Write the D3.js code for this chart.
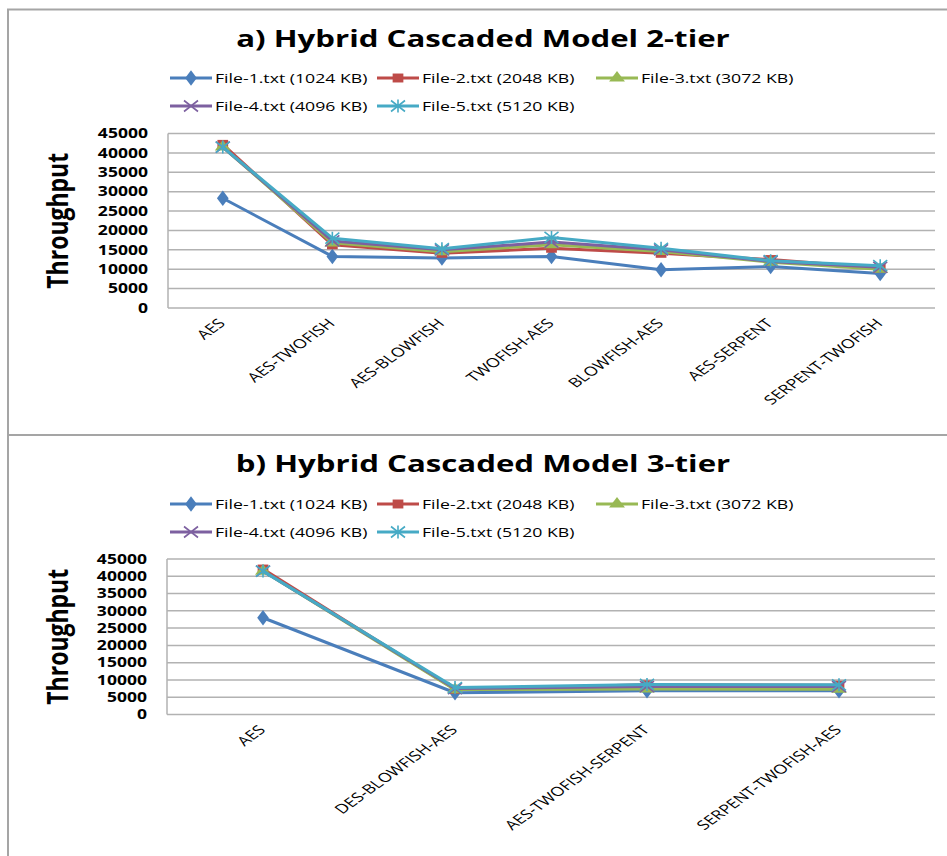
<!DOCTYPE html>
<html><head><meta charset="utf-8">
<script src="https://cdn.jsdelivr.net/npm/d3@7"></script>
<style>body{margin:0;background:#fff}</style>
</head><body><svg id="c" width="947" height="856"></svg>
<script>
const seriesNames = ["File-1.txt (1024 KB)", "File-2.txt (2048 KB)", "File-3.txt (3072 KB)", "File-4.txt (4096 KB)", "File-5.txt (5120 KB)"];
const seriesColors = ["#4a7ebb", "#be4b48", "#98b954", "#7d60a0", "#46aac5"];
const seriesMarkers = ["diamond", "square", "triangle", "x", "star"];

const titleA = "a) Hybrid Cascaded Model 2-tier";
const categoriesA = ["AES", "AES-TWOFISH", "AES-BLOWFISH", "TWOFISH-AES", "BLOWFISH-AES", "AES-SERPENT", "SERPENT-TWOFISH"];
const file1A = [28300, 13300, 12900, 13300, 9850, 10700, 8900];
const file2A = [42200, 16300, 14100, 15400, 14100, 12500, 10300];
const file3A = [41500, 16800, 14500, 16300, 14600, 11800, 10000];
const file4A = [41500, 17300, 15000, 17000, 15000, 12000, 10500];
const file5A = [41500, 18000, 15300, 18200, 15400, 12200, 10900];

const titleB = "b) Hybrid Cascaded Model 3-tier";
const categoriesB = ["AES", "DES-BLOWFISH-AES", "AES-TWOFISH-SERPENT", "SERPENT-TWOFISH-AES"];
const file1B = [28000, 6300, 6900, 6900];
const file2B = [42100, 7300, 8600, 8500];
const file3B = [41500, 7200, 7400, 7300];
const file4B = [41500, 7500, 8100, 8100];
const file5B = [41500, 7800, 8700, 8600];

const yTicks = [0, 5000, 10000, 15000, 20000, 25000, 30000, 35000, 40000, 45000];
const yTitle = "Throughput";

const svg = d3.select("#c");
const gridColor = "#b2b2b2";

// panel frames
svg.append("path").attr("d", "M8,856 V9.5 H947").attr("fill", "none").attr("stroke", "#a5a5a5").attr("stroke-width", 2);
svg.append("line").attr("x1", 8).attr("x2", 947).attr("y1", 435).attr("y2", 435).attr("stroke", "#a5a5a5").attr("stroke-width", 2);

function stext(g, x, y, str, o) {
  const sx = o.sx || 1.3;
  return g.append("text")
    .attr("transform", `translate(${x},${y}) scale(${sx},1)` + (o.rot ? ` rotate(${o.rot})` : ""))
    .attr("text-anchor", o.anchor || "start")
    .attr("dy", o.dy || "0.35em")
    .attr("font-family", o.family || "'Open Sans', sans-serif")
    .attr("font-size", o.size)
    .attr("font-weight", o.weight || "normal")
    .attr("fill", o.fill || "#000")
    .text(str);
}

function marker(g, type, x, y, color) {
  const m = g.append("g").attr("transform", `translate(${x},${y})`);
  if (type === "diamond") m.append("path").attr("d", d3.symbol(d3.symbolDiamond, 70)()).attr("fill", color).attr("transform", "scale(1.3,1)");
  else if (type === "square") m.append("path").attr("d", d3.symbol(d3.symbolSquare, 80)()).attr("fill", color).attr("transform", "scale(1.2,1)");
  else if (type === "triangle") m.append("path").attr("d", d3.symbol(d3.symbolTriangle, 65)()).attr("fill", color).attr("transform", "scale(1.3,1)");
  else if (type === "x") m.append("path").attr("d", "M-7,-5.5L7,5.5M-7,5.5L7,-5.5").attr("stroke", color).attr("stroke-width", 1.6);
  else if (type === "star") m.append("path").attr("d", "M-7,-5.5L7,5.5M-7,5.5L7,-5.5M0,-6.5V6.5").attr("stroke", color).attr("stroke-width", 1.6);
}

function panel(cfg) {
  const g = svg.append("g");
  stext(g, 483, cfg.titleY, cfg.title, {anchor: "middle", size: "24px", weight: "bold", dy: "0"});

  // legend
  const legPos = [[170, cfg.legY1], [377, cfg.legY1], [596, cfg.legY1], [170, cfg.legY2], [377, cfg.legY2]];
  seriesNames.forEach((n, i) => {
    const [lx, ly] = legPos[i];
    g.append("line").attr("x1", lx).attr("x2", lx + 42).attr("y1", ly).attr("y2", ly)
      .attr("stroke", seriesColors[i]).attr("stroke-width", 3);
    marker(g, seriesMarkers[i], lx + 21, ly, seriesColors[i]);
    stext(g, lx + 45, ly, n, {size: "13px", sx: 1.36});
  });

  const x = d3.scaleBand().domain(cfg.categories).range([cfg.left, cfg.right]);
  const y = d3.scaleLinear().domain([0, 45000]).range([cfg.bottom, cfg.top]);

  // gridlines
  g.append("g").selectAll("line").data(yTicks).join("line")
    .attr("x1", cfg.left).attr("x2", cfg.right)
    .attr("y1", d => y(d)).attr("y2", d => y(d))
    .attr("stroke", gridColor).attr("stroke-width", 1.5);
  g.append("line").attr("x1", cfg.left).attr("x2", cfg.left).attr("y1", cfg.top).attr("y2", cfg.bottom)
    .attr("stroke", gridColor).attr("stroke-width", 1.5);

  // y tick labels
  yTicks.forEach(t => stext(g, cfg.left - 20, y(t), String(t), {anchor: "end", size: "13.5px", weight: "bold"}));

  // y title
  stext(g, 58, (cfg.top + cfg.bottom) / 2, yTitle, {anchor: "middle", size: "23px", weight: "bold", rot: -90, sx: 1.25});

  // x labels
  cfg.categories.forEach(c => {
    stext(g, x(c) + x.bandwidth() / 2 - 1, cfg.bottom + 13, c, {anchor: "end", size: "13px", rot: -45, sx: 1.38});
  });

  // series
  const line = d3.line().x((d, i) => x(cfg.categories[i]) + x.bandwidth() / 2).y(d => y(d));
  cfg.series.forEach((vals, si) => {
    g.append("path").attr("d", line(vals)).attr("fill", "none")
      .attr("stroke", seriesColors[si]).attr("stroke-width", 3).attr("stroke-linejoin", "round");
    vals.forEach((v, i) => marker(g, seriesMarkers[si], x(cfg.categories[i]) + x.bandwidth() / 2, y(v), seriesColors[si]));
  });
}

panel({title: titleA, titleY: 47, legY1: 78, legY2: 106, categories: categoriesA,
  series: [file1A, file2A, file3A, file4A, file5A], left: 168, right: 935, top: 133.5, bottom: 308});
panel({title: titleB, titleY: 472, legY1: 504, legY2: 532, categories: categoriesB,
  series: [file1B, file2B, file3B, file4B, file5B], left: 167, right: 935, top: 559, bottom: 714.5});
</script>
</body></html>
